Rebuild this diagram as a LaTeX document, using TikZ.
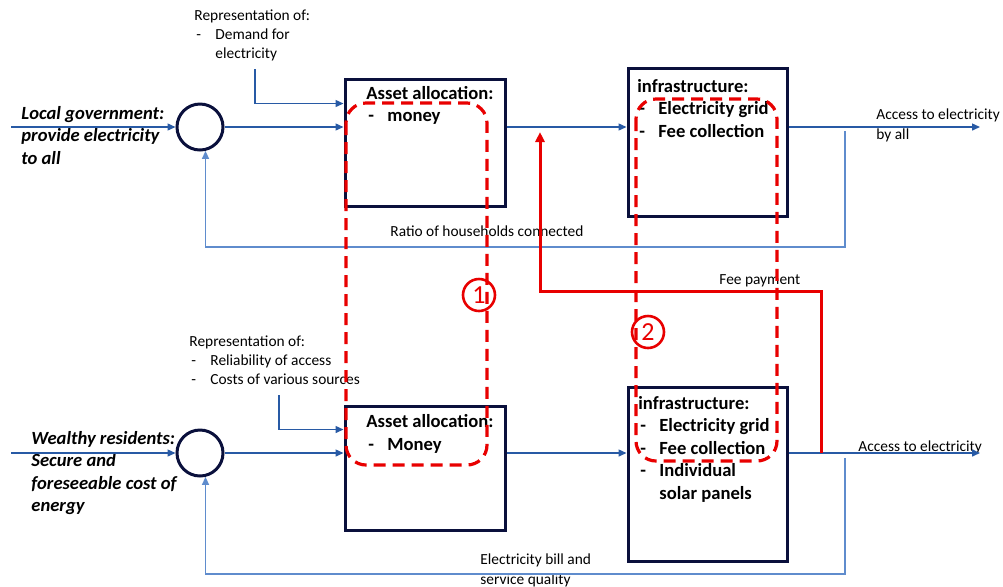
\documentclass[tikz,border=0pt]{standalone}
\usepackage{fontspec}
\setmainfont{Carlito}
\usetikzlibrary{arrows.meta}
\usetikzlibrary{positioning}

\definecolor{navy}{RGB}{10,16,60}
\definecolor{flowblue}{RGB}{40,90,165}
\definecolor{fbblue}{RGB}{95,140,205}
\definecolor{alarmred}{RGB}{232,0,0}

\newcommand\dashitem[1]{\makebox[10.5pt][l]{\hspace*{1pt}-}#1}

\tikzset{
  block/.style={draw=navy, line width=1.5pt, inner sep=0pt},
  sumpt/.style={circle, draw=navy, line width=1.5pt, minimum size=23pt, inner sep=0pt},
  flow/.style={draw=flowblue, line width=0.7pt, -{Triangle[length=4pt,width=3.5pt]}},
  fback/.style={draw=fbblue, line width=0.7pt, -{Triangle[length=4pt,width=3.5pt]}},
  pay/.style={draw=alarmred, line width=1.5pt, -{Triangle[length=5pt,width=4.5pt]}},
  group/.style={draw=alarmred, line width=1.6pt, dash pattern=on 6pt off 3.5pt, rounded corners=10pt},
  tag/.style={circle, draw=alarmred, line width=1.3pt, text=alarmred, minimum size=16pt, inner sep=0pt, font=\fontsize{13}{13}\selectfont},
  note/.style={anchor=west, inner sep=0pt, align=left, font=\fontsize{7.7}{9.4}\selectfont},
  boxtext/.style={anchor=west, inner sep=0pt, align=left, font=\bfseries\fontsize{9.3}{11.25}\selectfont},
  actor/.style={anchor=west, inner sep=0pt, align=left, font=\bfseries\itshape\fontsize{9.3}{11.25}\selectfont},
}

\begin{document}
\begin{tikzpicture}[x=0.5pt,y=-0.5pt]
\useasboundingbox (0,0) rectangle (1003,586);

\node[sumpt] (sum1) at (200,127) {};
\node[sumpt] (sum2) at (200,453) {};
\node[block, minimum width=80pt, minimum height=63.5pt] (alloc1) at (425,142.5) {};
\node[block, minimum width=79.5pt, minimum height=74pt] (infra1) at (707.5,142) {};
\node[block, minimum width=80pt, minimum height=62pt] (alloc2) at (425,468) {};
\node[block, minimum width=79.5pt, minimum height=87pt] (infra2) at (707.5,474) {};

\node[boxtext] (alloc1txt) at (366,105.5) {Asset allocation:\\\dashitem{money}};
\node[boxtext] (infra1txt) at (637,108.5) {infrastructure:\\\dashitem{Electricity grid}\\\dashitem{Fee collection}};
\node[boxtext] (alloc2txt) at (366,434) {Asset allocation:\\\dashitem{Money}};
\node[boxtext] (infra2txt) at (638,449) {infrastructure:\\\dashitem{Electricity grid}\\\dashitem{Fee collection}\\\dashitem{Individual}\\\hspace*{10.5pt}solar panels};

\node[actor] (gov) at (21,135.5) {Local government:\\provide electricity\\to all};
\node[actor] (rich) at (31,473) {Wealthy residents:\\Secure and\\foreseeable cost of\\energy};

\node[note] (rep1) at (194,35.5) {Representation of:\\\dashitem{Demand for}\\\hspace*{10.5pt}electricity};
\node[note] (rep2) at (189,360.5) {Representation of:\\\dashitem{Reliability of access}\\\dashitem{Costs of various sources}};
\node[note] (ratio1) at (390,231) {Ratio of households connected};
\node[note, font=\fontsize{7.7}{10}\selectfont] (access1) at (876,125) {Access to electricity\\by all};
\node[note] (access2) at (858,447) {Access to electricity};
\node[note] (feepay) at (719,281) {Fee payment};
\node[note, font=\fontsize{7.7}{10}\selectfont] (bill2) at (480,570) {Electricity bill and\\service quality};

\coordinate (in1) at (11,127);
\coordinate (in2) at (11,453);
\coordinate (out1) at (980,127);
\coordinate (out2) at (980,453);
\coordinate (repin1) at (255,69);
\coordinate (repin2) at (279,395);
\path (alloc1.north west) ++(0,26) coordinate (repend1);
\path (alloc2.north west) ++(0,25) coordinate (repend2);

\draw[flow] (in1) -- (sum1.west);
\draw[flow] (sum1.east) -- (sum1.east -| alloc1.west);
\draw[flow] (alloc1.east |- sum1) -- (infra1.west |- sum1);
\draw[flow] (infra1.east |- sum1) -- (out1);
\draw[flow] (repin1) |- (repend1);

\draw[flow] (in2) -- (sum2.west);
\draw[flow] (sum2.east) -- (sum2.east -| alloc2.west);
\draw[flow] (alloc2.east |- sum2) -- (infra2.west |- sum2);
\draw[flow] (infra2.east |- sum2) -- (out2);
\draw[flow] (repin2) |- (repend2);

\coordinate (tap1) at (845,131);
\coordinate (fb1) at (845,247);
\coordinate (tap2) at (845,458);
\coordinate (fb2) at (845,574);
\draw[fback] (tap1) -- (fb1) -| (sum1.-77);
\draw[fback] (tap2) -- (fb2) -| (sum2.-77);

\coordinate (paytap) at (821,453);
\coordinate (payturn) at (821,291);
\coordinate (payin) at (540,132);
\draw[pay] (paytap) -- (payturn) -| (payin);

\draw[group] (346,103) rectangle (487,465);
\draw[group] (636,99) rectangle (777,461);
\node[tag] (tag1) at (479,295) {1};
\node[tag] (tag2) at (648,332) {2};
\end{tikzpicture}
\end{document}
